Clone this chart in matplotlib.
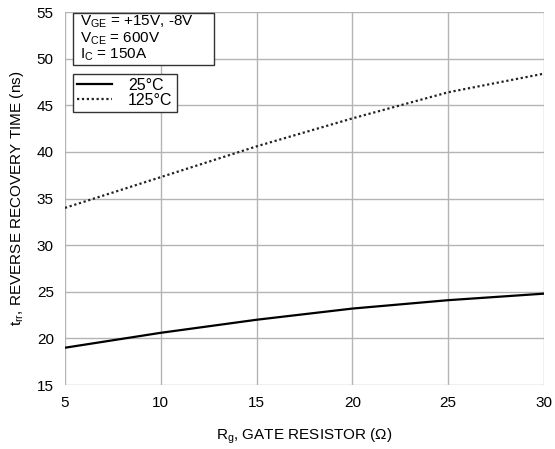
import numpy as np
import matplotlib
matplotlib.use('Agg')
import matplotlib.pyplot as plt
from matplotlib.patches import Rectangle

# data
rg = [5, 10, 15, 20, 25, 30]
trr_25 = [19.0, 20.6, 22.0, 23.2, 24.1, 24.8]
trr_125 = [34.0, 37.3, 40.6, 43.6, 46.4, 48.4]

x_ticks = [5, 10, 15, 20, 25, 30]
y_ticks = [15, 20, 25, 30, 35, 40, 45, 50, 55]

cond_lines = [r'V$_\mathregular{GE}$ = +15V, -8V', r'V$_\mathregular{CE}$ = 600V', r'I$_\mathregular{C}$ = 150A']

plt.rcParams['font.family'] = ['Liberation Sans', 'DejaVu Sans']
plt.rcParams['mathtext.fontset'] = 'custom'
plt.rcParams['mathtext.rm'] = 'Liberation Sans'
plt.rcParams['mathtext.it'] = 'Liberation Sans'

font_size = 11
grid_color = '#b4b4b4'

fig = plt.figure(figsize=(5.55, 4.49), dpi=100)
ax = fig.add_axes([0.117, 0.1425, 0.863, 0.8305])

ax.plot(rg, trr_25, color='black', lw=1.6, label='25°C')
ax.plot(rg, trr_125, color='#222222', lw=1.6, ls=(0, (1, 1.2)), label='125°C')

ax.set_xlim(5, 30)
ax.set_ylim(15, 55)
ax.set_xticks(x_ticks)
ax.set_yticks(y_ticks)
ax.grid(True, color=grid_color, lw=1.0)
ax.set_axisbelow(True)
for sp in ax.spines.values():
  sp.set_visible(False)
ax.tick_params(axis='both', length=0, labelsize=font_size, pad=8)

ax.set_xlabel(r'R$_\mathregular{g}$, GATE RESISTOR (Ω)', fontsize=font_size, labelpad=12)
ax.set_ylabel(r't$_\mathregular{rr}$, REVERSE RECOVERY TIME (ns)', fontsize=font_size, labelpad=8)

# conditions box
ax.add_patch(Rectangle((0.0167, 0.858), 0.294, 0.139, transform=ax.transAxes,
                       fc='white', ec='#333333', lw=1.0, zorder=5))
for k, line in enumerate(cond_lines):
  ax.text(0.031, 0.973 - k*0.044, line, transform=ax.transAxes, ha='left', va='center',
          fontsize=11, zorder=6)

leg = ax.legend(loc='upper left', bbox_to_anchor=(0.0167, 0.834), frameon=True, fancybox=False,
                fontsize=11.5, handlelength=2.2, borderpad=0.25, labelspacing=0.0,
                handletextpad=1.0, borderaxespad=0.0)
leg.get_frame().set_edgecolor('#333333')
leg.get_frame().set_linewidth(1.0)
leg.get_frame().set_alpha(1)

fig.savefig('out.png', dpi=100, facecolor='white')
